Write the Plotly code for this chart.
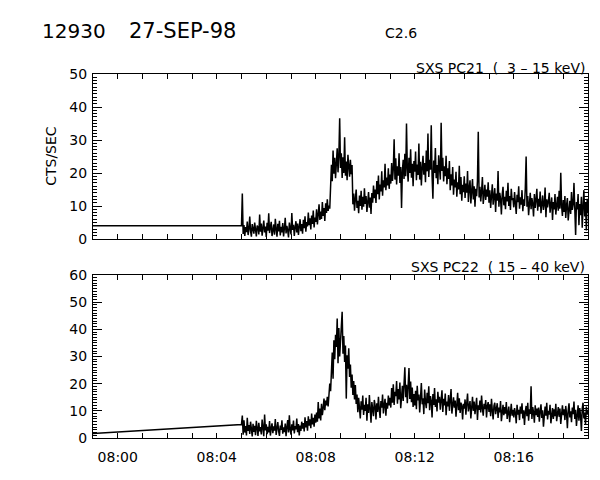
import datetime as dt
import plotly.graph_objects as go

# ---------------- data ----------------
DATE = "1998-09-27"
START = "08:05:00"          # first sample of the continuous record
CADENCE_S = 2               # seconds between samples

# sample before the data gap (connected by a straight line, as in the original)
pre_time = "07:58:50"
pc21_pre = 4.0
pc22_pre = 1.6

# SXS PC21 (3 - 15 keV) counts/s, one row per minute from 08:05
pc21 = [
    4.0, 13.8, 1.5, 4.2, 0.9, 3.6, 2.1, 5.3, 1.2, 3.0, 6.8, 2.4, 0.7, 4.5, 3.1, 1.6, 5.0, 2.7, 0.8, 4.1, 3.5, 1.4, 7.4, 2.2, 4.7, 1.0, 3.3, 5.6, 2.0, 3.8,
    0.6, 4.9, 2.5, 7.8, 1.8, 3.4, 5.2, 0.9, 2.9, 4.4, 1.3, 6.1, 3.0, 0.7, 4.6, 2.3, 5.5, 1.1, 3.7, 2.0, 4.8, 0.8, 3.2, 6.4, 1.7, 4.0, 2.6, 0.5, 5.0, 3.1,
    1.4, 7.9, 2.8, 4.3, 0.9, 3.6, 5.4, 2.0, 4.7, 1.2, 3.9, 6.0, 2.4, 4.5, 1.6, 5.8, 3.3, 6.9, 2.2, 5.1, 3.8, 8.0, 4.2, 6.3, 2.9, 7.1, 4.6, 8.6, 3.5, 6.5,
    5.2, 9.0, 4.4, 7.6, 10.5, 5.8, 8.3, 6.1, 11.2, 7.0, 9.4, 5.5, 10.8, 7.9, 12.0, 8.5, 10.1, 9.2, 16.8, 22.5, 17.5, 26.8, 19.8, 24.6, 18.4, 22.0, 27.5, 20.2, 25.0, 36.6,
    21.5, 26.0, 18.5, 24.8, 20.0, 30.8, 19.2, 23.5, 17.8, 25.5, 21.8, 18.9, 24.0, 19.6, 22.4, 10.5, 13.8, 8.6, 12.2, 15.0, 9.4, 11.6, 7.8, 13.2, 10.0, 14.6, 8.9, 12.8, 9.8, 15.4,
    10.6, 13.0, 8.2, 11.8, 14.2, 9.5, 12.6, 7.6, 13.9, 11.0, 16.2, 12.4, 15.0, 10.9, 17.6, 13.6, 19.2, 12.0, 16.5, 14.4, 20.5, 13.1, 17.8, 15.6, 22.8, 14.8, 18.6, 16.2, 21.4, 15.2,
    19.5, 16.8, 23.0, 17.6, 21.2, 30.2, 18.0, 24.5, 16.5, 22.0, 19.2, 26.0, 17.0, 21.8, 9.4, 20.6, 24.0, 18.2, 25.8, 19.0, 35.0, 21.4, 17.4, 24.6, 20.0, 27.2, 18.6, 22.8, 16.0, 23.6,
    20.4, 26.5, 17.8, 22.6, 19.4, 28.9, 18.0, 23.4, 16.2, 21.6, 25.2, 19.5, 23.0, 17.2, 26.8, 20.5, 32.0, 18.8, 24.0, 21.0, 34.5, 19.2, 12.2, 23.8, 20.0, 27.6, 18.4, 22.4, 16.6, 25.4,
    21.2, 18.0, 35.2, 20.6, 24.6, 17.4, 22.0, 19.0, 25.2, 16.6, 21.4, 18.2, 23.6, 14.8, 19.6, 16.2, 21.8, 13.4, 18.0, 15.6, 20.4, 12.8, 17.2, 15.0, 22.2, 13.6, 18.8, 11.6, 16.4, 14.2,
    19.0, 12.4, 16.8, 14.0, 20.6, 11.2, 15.4, 17.8, 10.8, 14.6, 18.2, 12.0, 16.0, 9.8, 15.2, 13.0, 17.6, 32.5, 12.6, 15.8, 11.4, 14.4, 18.8, 10.6, 13.8, 16.4, 11.8, 15.0, 12.8, 17.2,
    11.0, 14.8, 9.4, 13.2, 16.6, 10.4, 12.6, 15.4, 8.2, 13.8, 11.6, 20.6, 9.8, 14.0, 12.2, 7.4, 13.4, 15.8, 10.2, 12.8, 9.0, 14.6, 11.4, 17.0, 10.0, 13.0, 8.8, 15.2, 11.8, 12.4,
    9.6, 14.2, 10.8, 7.6, 13.4, 11.2, 16.0, 9.2, 12.6, 10.4, 14.8, 8.4, 12.0, 10.0, 15.4, 25.0, 9.8, 13.0, 7.2, 11.6, 14.0, 9.0, 12.4, 10.6, 6.8, 13.6, 9.4, 11.8, 15.2, 8.6,
    12.2, 9.8, 14.4, 7.8, 11.0, 13.2, 8.8, 10.4, 15.6, 6.6, 12.0, 9.6, 11.4, 14.0, 8.0, 10.8, 12.6, 5.8, 11.2, 9.0, 13.6, 7.4, 10.6, 12.8, 8.6, 14.6, 9.2, 20.1, 10.0, 7.0,
    11.8, 8.2, 13.0, 6.4, 10.2, 12.4, 5.6, 9.4, 11.6, 7.6, 14.2, 8.8, 10.4, 17.0, 6.0, 1.2, 11.2, 9.0, 13.6, 4.2, 10.6, 7.2, 12.8, 3.4, 9.8, 14.8, 6.8, 11.0, 2.6, 12.2,
    8.0,
]

# SXS PC22 (15 - 40 keV) counts/s, one row per minute from 08:05
pc22 = [
    5.0, 8.3, 1.2, 6.5, 2.0, 4.4, 0.9, 7.4, 2.6, 4.8, 1.5, 6.0, 3.0, 0.6, 5.2, 2.2, 4.5, 1.0, 6.3, 3.4, 0.8, 5.6, 2.4, 4.0, 1.3, 6.8, 3.2, 0.7, 8.6, 2.8,
    5.0, 1.4, 4.1, 2.1, 6.2, 0.9, 3.6, 5.4, 1.8, 4.3, 2.7, 7.0, 1.1, 3.8, 5.9, 2.5, 0.8, 4.6, 3.0, 6.5, 1.6, 3.9, 2.2, 5.3, 0.7, 4.0, 6.6, 2.0, 8.4, 3.1,
    1.2, 5.0, 2.8, 6.4, 1.7, 4.4, 3.2, 7.2, 2.1, 5.1, 0.9, 4.6, 2.6, 6.0, 3.4, 5.5, 2.4, 7.6, 3.9, 6.2, 2.7, 8.0, 4.5, 6.9, 3.6, 9.0, 5.0, 7.4, 4.2, 8.6,
    5.6, 9.4, 6.0, 13.2, 7.2, 10.8, 6.5, 12.6, 8.4, 11.0, 14.5, 10.2, 13.8, 12.0, 15.2, 11.6, 16.5, 20.0, 17.2, 24.0, 31.5, 21.8, 36.0, 29.0, 38.0, 33.5, 44.0, 27.5, 40.5, 30.0,
    35.0, 42.0, 46.5, 31.0, 37.5, 28.0, 34.0, 14.5, 30.5, 25.5, 33.0, 22.5, 27.0, 18.5, 23.4, 15.8, 21.0, 14.2, 19.5, 12.5, 16.0, 9.5, 14.8, 11.0, 7.2, 13.5, 10.4, 15.6, 8.5, 12.2,
    10.0, 14.8, 6.4, 12.4, 9.2, 15.8, 11.0, 5.6, 13.2, 10.4, 8.0, 14.0, 11.8, 6.8, 12.8, 9.6, 15.2, 10.6, 7.4, 13.6, 11.2, 16.0, 9.0, 12.2, 14.4, 8.2, 13.0, 10.8, 15.6, 12.0,
    14.8, 11.2, 18.4, 13.0, 19.8, 12.2, 17.0, 15.4, 21.0, 12.6, 18.0, 14.2, 20.4, 11.0, 16.8, 19.2, 13.6, 22.0, 26.0, 15.0, 19.6, 12.8, 17.6, 25.8, 14.4, 20.8, 13.2, 18.6, 11.4, 16.2,
    12.0, 17.4, 10.6, 19.2, 13.8, 16.0, 9.4, 15.0, 20.2, 12.4, 14.6, 8.8, 17.8, 13.2, 11.0, 16.6, 12.8, 19.0, 10.2, 15.4, 13.6, 7.6, 16.2, 12.2, 18.4, 11.4, 14.2, 9.8, 17.0, 13.0,
    15.2, 10.4, 13.8, 17.6, 9.6, 14.4, 12.0, 16.4, 8.4, 13.4, 11.6, 15.8, 10.0, 14.0, 18.0, 9.0, 12.6, 15.0, 11.2, 13.8, 7.8, 12.4, 16.6, 10.2, 14.6, 9.2, 13.0, 11.8, 6.8, 12.6,
    10.8, 14.2, 8.6, 12.8, 16.4, 9.8, 11.6, 13.6, 7.2, 12.2, 15.2, 10.0, 13.4, 8.8, 11.4, 14.8, 6.6, 12.0, 10.4, 13.8, 9.4, 15.6, 11.0, 8.2, 12.6, 10.6, 14.0, 7.6, 11.8, 13.2,
    9.6, 12.4, 8.0, 14.4, 10.2, 6.8, 11.8, 13.0, 8.8, 10.6, 12.8, 7.4, 11.2, 9.4, 13.6, 6.2, 10.8, 12.2, 8.4, 11.4, 9.0, 13.2, 7.0, 10.0, 11.6, 5.8, 9.8, 12.6, 8.2, 10.4,
    7.6, 11.0, 9.2, 5.4, 12.2, 8.6, 10.4, 6.6, 11.6, 9.0, 12.8, 7.2, 10.2, 4.8, 9.6, 11.8, 8.0, 13.0, 6.4, 10.6, 8.8, 19.0, 7.0, 11.4, 9.4, 5.6, 12.0, 8.4, 10.8, 7.8,
    11.2, 6.0, 9.8, 12.4, 7.4, 10.2, 4.2, 9.0, 11.6, 8.2, 13.0, 6.8, 10.0, 8.6, 12.2, 5.4, 9.4, 11.0, 7.0, 10.6, 8.0, 12.6, 6.2, 9.6, 11.4, 7.8, 10.8, 5.2, 9.2, 12.0,
    8.4, 10.6, 6.6, 11.8, 9.0, 3.6, 10.2, 12.8, 7.6, 9.8, 5.8, 11.2, 8.8, 13.4, 7.0, 10.4, 4.4, 9.6, 12.0, 6.4, 11.0, 8.2, 2.6, 10.8, 13.0, 7.2, 9.4, 5.0, 11.6, 8.6,
    10.0,
]

x_range = ["07:59:00", "08:19:00"]
x_tick_labels_every_min = 4

# ---------------- build ----------------
t0 = dt.datetime.fromisoformat(f"{DATE} {START}")
tpre = dt.datetime.fromisoformat(f"{DATE} {pre_time}")


def times_for(series):
    return [tpre] + [t0 + dt.timedelta(seconds=CADENCE_S * i) for i in range(len(series))]


FONT = "DejaVu Sans"
LW = 1.5
fig = go.Figure()
fig.add_trace(go.Scatter(x=times_for(pc21), y=[pc21_pre] + pc21, mode="lines",
                         line=dict(color="black", width=LW), xaxis="x", yaxis="y",
                         showlegend=False))
fig.add_trace(go.Scatter(x=times_for(pc22), y=[pc22_pre] + pc22, mode="lines",
                         line=dict(color="black", width=LW), xaxis="x2", yaxis="y2",
                         showlegend=False))

xr = [f"{DATE} {x_range[0]}", f"{DATE} {x_range[1]}"]
common_x = dict(type="date", range=xr, showline=True, linecolor="black", linewidth=1,
                mirror="allticks", ticks="inside", ticklen=5, tickcolor="black",
                showgrid=False, zeroline=False, automargin=False,
                tickfont=dict(family=FONT, size=14, color="black"))
common_y = dict(showline=True, linecolor="black", linewidth=1, mirror="allticks",
                ticks="inside", ticklen=9, tickcolor="black", dtick=10, tick0=0,
                showgrid=False, zeroline=False, automargin=False,
                minor=dict(dtick=1, ticks="inside", ticklen=4, tickcolor="black", showgrid=False),
                tickfont=dict(family=FONT, size=14, color="black"), ticklabelstandoff=2)

fig.update_layout(
    template="none",
    width=600, height=480,
    margin=dict(l=93, r=12, t=74, b=42, autoexpand=False),
    paper_bgcolor="white", plot_bgcolor="white",
    xaxis=dict(common_x, anchor="y", showticklabels=False, dtick=60000,
               tick0=f"{DATE} 08:00:00"),
    yaxis=dict(common_y, domain=[0.5467, 1.0], range=[0, 50], anchor="x"),
    xaxis2=dict(common_x, anchor="y2", dtick=60000 * x_tick_labels_every_min,
                tick0=f"{DATE} 08:00:00", tickformat="%H:%M", ticklabelstandoff=6,
                minor=dict(dtick=60000, ticks="inside", ticklen=5, tickcolor="black",
                           showgrid=False)),
    yaxis2=dict(common_y, domain=[0.0, 0.4478], range=[0, 60], anchor="x2"),
)

ann = [
    dict(text="12930", x=-0.107, y=1.118, xanchor="left", font=dict(size=20)),
    dict(text="27-SEP-98", x=0.0687, y=1.118, xanchor="left", font=dict(size=21)),
    dict(text="C2.6", x=0.586, y=1.1126, xanchor="left", font=dict(size=14)),
    dict(text="SXS\u00a0PC21\u00a0\u00a0(\u00a0\u00a03\u00a0\u2013\u00a015\u00a0keV)",
         x=0.998, y=1.0165, xanchor="right", font=dict(size=14)),
    dict(text="SXS\u00a0PC22\u00a0\u00a0(\u00a015\u00a0\u2013\u00a040\u00a0keV)",
         x=0.998, y=0.4698, xanchor="right", font=dict(size=14)),
    dict(text="CTS/SEC", x=-0.085, y=0.775, xanchor="center", textangle=-90,
         font=dict(size=14)),
]
for a in ann:
    a["font"] = dict(family=FONT, color="black", **a["font"])
    fig.add_annotation(xref="paper", yref="paper", yanchor="middle", showarrow=False, **a)

fig.write_html("out.html", config={"displayModeBar": False},
               post_script="document.body.style.margin='0px';")
